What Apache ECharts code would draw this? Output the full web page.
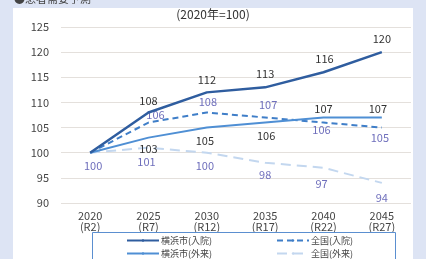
<!DOCTYPE html>
<html>
<head>
<meta charset="utf-8">
<script src="https://cdn.jsdelivr.net/npm/echarts@6/dist/echarts.min.js"></script>
<style>
  html, body { margin: 0; padding: 0; background: #dde4f4; }
  #chart { width: 426px; height: 259px; }
</style>
</head>
<body>
<div id="chart"></div>
<script>
// categories and series values
var years = ['2020\n(R2)', '2025\n(R7)', '2030\n(R12)', '2035\n(R17)', '2040\n(R22)', '2045\n(R27)'];
var yokohamaIn = [100, 108, 112, 113, 116, 120];
var zenkokuIn = [100, 106, 108, 107, 106, 105];
var yokohamaOut = [100, 103, 105, 106, 107, 107];
var zenkokuOut = [100, 101, 100, 98, 97, 94];
var seriesNames = ['横浜市(入院)', '全国(入院)', '横浜市(外来)', '全国(外来)'];

(function () {
  'use strict';

  var FONT = '"Noto Sans CJK JP", "Noto Sans", sans-serif';
  var chart = echarts.init(document.getElementById('chart'));

  // label placement per point: null = no label
  function withLabels(values, places, color, offsets) {
    return values.map(function (v, i) {
      var p = places[i];
      if (!p) return { value: v, label: { show: false } };
      return {
        value: v,
        label: {
          show: true,
          position: p,
          distance: 3,
          offset: (offsets && offsets[i]) || [0, 0],
          color: color,
          fontSize: 11,
          fontFamily: FONT
        }
      };
    });
  }

  var dark = '#333333';
  var purple = '#6f6fbc';

  var legendBase = {
    orient: 'vertical',
    top: 236,
    padding: 0,
    itemWidth: 32,
    itemHeight: 3,
    itemGap: 4,
    textStyle: { fontSize: 9, color: '#444', padding: [0, 0, 0, -3] },
    z: 5
  };

  var option = {
    animation: false,
    textStyle: { fontFamily: FONT },
    graphic: [
      { type: 'rect', left: 13, top: 8, shape: { width: 400, height: 260 }, style: { fill: '#ffffff' }, z: -10 },
      { type: 'text', left: 14, top: -7, style: { text: '●患者需要予測', fill: '#444', font: '11px "Noto Sans CJK JP"' } },
      { type: 'rect', left: 92, top: 232, shape: { width: 303, height: 40 }, style: { fill: '#ffffff', stroke: '#5b8fd0', lineWidth: 1 }, z: 1 }
    ],
    title: {
      text: '(2020年=100)',
      left: 'center',
      top: 3,
      textStyle: { fontSize: 12, fontWeight: 'normal', color: '#333', fontFamily: FONT }
    },
    legend: [
      Object.assign({}, legendBase, { data: [seriesNames[0], seriesNames[2]], left: 126 }),
      Object.assign({}, legendBase, { data: [seriesNames[1], seriesNames[3]], left: 276 })
    ],
    grid: { left: 61, right: 15, top: 27, bottom: 56 },
    xAxis: {
      type: 'category',
      data: years,
      boundaryGap: true,
      axisLine: { show: false },
      axisTick: { show: false },
      axisLabel: { color: '#444', fontSize: 11, lineHeight: 11, margin: 7 }
    },
    yAxis: {
      type: 'value',
      min: 90,
      max: 125,
      interval: 5,
      axisLine: { show: false },
      axisTick: { show: false },
      axisLabel: { color: '#444', fontSize: 11, margin: 12 },
      splitLine: { lineStyle: { color: '#e4e0dc', width: 1 } }
    },
    series: [
      {
        name: seriesNames[0],
        type: 'line',
        symbol: 'circle',
        symbolSize: 0,
        z: 4,
        lineStyle: { color: '#2f5d9f', width: 2.5 },
        itemStyle: { color: '#2f5d9f' },
        data: withLabels(yokohamaIn, [null, 'top', 'top', 'top', 'top', 'top'], dark,
          [null, [0, -3], [0, -4], [0, -5], [1, -5], [0, -5]])
      },
      {
        name: seriesNames[1],
        type: 'line',
        symbol: 'circle',
        symbolSize: 0,
        z: 3,
        lineStyle: { color: '#3f7ec8', width: 2, type: [6, 4] },
        itemStyle: { color: '#3f7ec8' },
        data: withLabels(zenkokuIn, [null, 'top', 'top', 'top', 'bottom', 'bottom'], purple,
          [null, [7, 1], [1, -2], [3, -4], [-2, -1], [-2, 2]])
      },
      {
        name: seriesNames[2],
        type: 'line',
        symbol: 'circle',
        symbolSize: 0,
        z: 3,
        lineStyle: { color: '#4f8fd4', width: 2 },
        itemStyle: { color: '#4f8fd4' },
        data: withLabels(yokohamaOut, [null, 'bottom', 'bottom', 'bottom', 'top', 'top'], dark,
          [null, [0, 3], [-2, 5], [1, 5], [0, 0], [-4, 0]])
      },
      {
        name: seriesNames[3],
        type: 'line',
        symbol: 'circle',
        symbolSize: 0,
        z: 2,
        lineStyle: { color: '#c3d7ef', width: 2, type: [10, 6] },
        itemStyle: { color: '#c3d7ef' },
        data: withLabels(zenkokuOut, ['bottom', 'bottom', 'bottom', 'bottom', 'bottom', 'bottom'], purple,
          [[3, 5], [-2, 6], [-2, 5], [0, 4], [-2, 8], [0, 6]])
      }
    ]
  };

  chart.setOption(option);
})();
</script>
</body>
</html>
